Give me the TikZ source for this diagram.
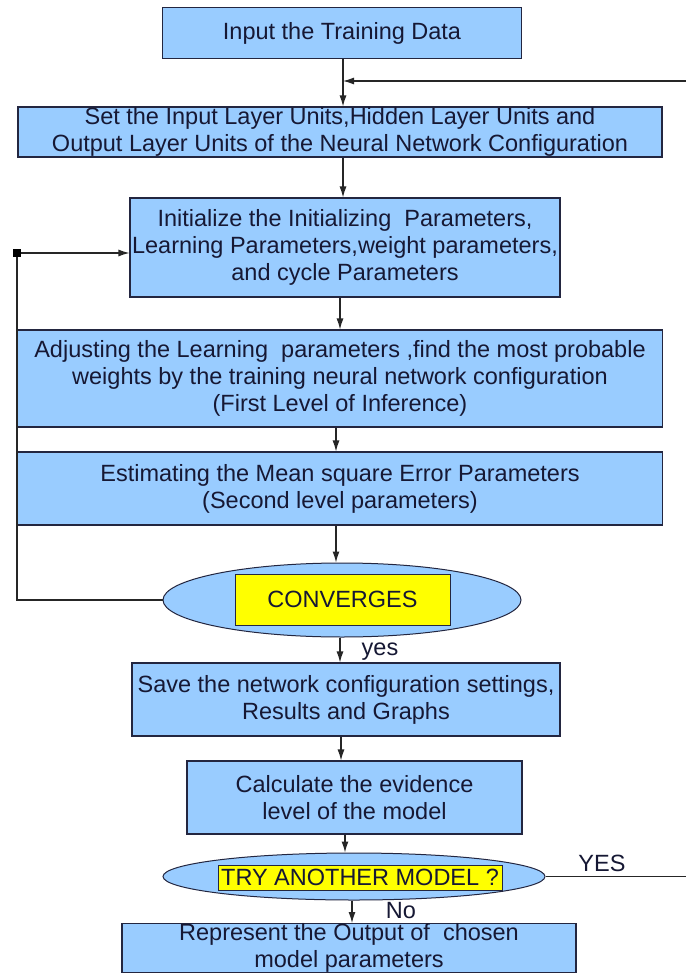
\documentclass[tikz,border=0pt]{standalone}
\usepackage{fontspec}
\setmainfont{Liberation Sans}
\usepackage{xcolor}
\usepackage{tikz}
\usetikzlibrary{positioning, arrows.meta, shapes.geometric, calc}

\definecolor{boxblue}{RGB}{153,204,255}
\definecolor{edgenavy}{RGB}{35,38,64}
\definecolor{textnavy}{RGB}{22,24,52}
\definecolor{hiyellow}{RGB}{255,255,0}

\begin{document}
\begin{tikzpicture}[
  x=1pt, y=-1pt,
  font=\fontsize{23.5}{27}\selectfont,
  text=textnavy,
  proc/.style={draw=edgenavy, line width=1.1pt, fill=boxblue,
    align=center, inner sep=0pt},
  decide/.style={ellipse, draw=edgenavy, line width=1pt, fill=boxblue,
    inner sep=0pt},
  hilite/.style={draw=edgenavy, line width=1pt, fill=hiyellow,
    inner sep=0pt},
  tag/.style={inner sep=0pt},
  arrow/.style={-{Latex[length=11pt,width=7pt]}, line width=1.2pt, draw=black!85},
  line/.style={line width=1.2pt, draw=black!85},
]
  \useasboundingbox[fill=white] (0,0) rectangle (685,973);

  \node[proc, minimum width=359pt, minimum height=51pt] (input) at (342,33)
    {Input the Training Data};
  \node[proc, minimum width=644pt, minimum height=50pt] (layers) at (340,132)
    {Set the Input Layer Units,Hidden Layer Units and\\
     Output Layer Units of the Neural Network Configuration};
  \node[proc, minimum width=430pt, minimum height=99pt] (init) at (345,247.5)
    {Initialize the Initializing\ \ Parameters,\\
     Learning Parameters,weight parameters,\\ and cycle Parameters};
  \node[proc, minimum width=645pt, minimum height=97pt] (adjust) at (340,378.5)
    {Adjusting the Learning\ \ parameters ,find the most probable\\
     weights by the training neural network configuration\\
     (First Level of Inference)};
  \node[proc, minimum width=645pt, minimum height=73pt] (mse) at (340,488.5)
    {Estimating the Mean square Error Parameters\\ (Second level parameters)};

  \node[decide, minimum width=358pt, minimum height=74pt] (conv) at (342,600) {};
  \node[hilite, minimum width=215pt, minimum height=51pt] (convtxt) at (342.5,599.5)
    {CONVERGES};

  \node[proc, minimum width=428pt, minimum height=73pt] (save) at (346,699.5)
    {Save the network configuration settings,\\ Results and Graphs};
  \node[proc, minimum width=335pt, minimum height=73pt] (evid) at (354.5,797.5)
    {Calculate the evidence\\ level of the model};

  \node[decide, minimum width=382pt, minimum height=47pt] (again) at (354,876.5) {};
  \node[hilite, minimum width=284pt, minimum height=25pt] (againtxt) at (360,877.5)
    {TRY ANOTHER MODEL ?};

  \node[proc, minimum width=454pt, minimum height=48pt] (output) at (349,948)
    {Represent the Output of\ \ chosen\\ model parameters};

  % loop marks
  \node[fill=black, minimum size=8pt, inner sep=0pt] (back) at (17,253) {};
  \coordinate (join) at (343,81);

  % labels
  \node[tag] (yes) at (380,652) {yes};
  \node[tag] (yes2) at (602,863) {YES};
  \node[tag] (no) at (401,911) {No};

  % main flow
  \draw[arrow] (input.south -| join) -- (layers.north -| join);
  \draw[arrow] (layers.south -| join) -- (init.north -| join);
  \draw[arrow] (init.south -| adjust) -- (adjust.north);
  \draw[arrow] (adjust.south -| 336,0) -- (mse.north -| 336,0);
  \draw[arrow] (mse.south -| 336,0) -- (conv.north -| 336,0);
  \draw[arrow] (conv.south -| 340,0) -- (save.north -| 340,0);
  \draw[arrow] (save.south -| 341,0) -- (evid.north -| 341,0);
  \draw[arrow] (evid.south -| 345,0) -- (again.north -| 345,0);
  \draw[arrow] (again.south -| 352,0) -- (output.north -| 352,0);

  % feedback loops
  \draw[line] (conv.west) -| (back);
  \draw[arrow] (back) -- (back -| init.west);
  \draw[arrow] (again.east) -- ++(150,0) |- (join);
\end{tikzpicture}
\end{document}
